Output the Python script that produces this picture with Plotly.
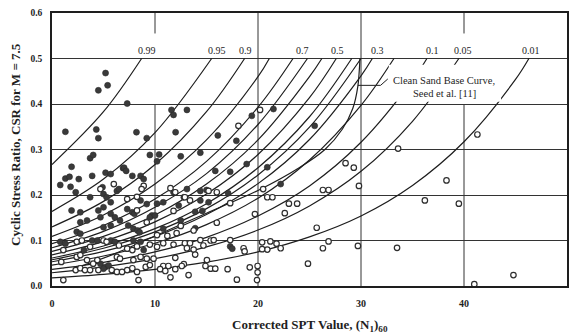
import plotly.graph_objects as go

# ---------------- data ----------------
# probability curves: CSR read at N = 0, 5, 10, ... and where each reaches 0.5
curve_levels = ["0.99", "0.95", "0.9", "0.85", "0.8", "0.7", "0.6", "0.5",
                "0.4", "0.35", "0.3", "0.2", "0.1", "0.05", "0.01"]
curve_N = [
    [0, 5, 8.7],
    [0, 5, 10, 15.5],
    [0, 5, 10, 15, 18.7],
    [0, 5, 10, 15, 20, 21.1],
    [0, 5, 10, 15, 20, 23.4],
    [0, 5, 10, 15, 20, 24.8],
    [0, 5, 10, 15, 20, 25, 26.2],
    [0, 5, 10, 15, 20, 25, 27.6],
    [0, 5, 10, 15, 20, 25, 29.1],
    [0, 5, 10, 15, 20, 25, 30.0],
    [0, 5, 10, 15, 20, 25, 30, 31.1],
    [0, 5, 10, 15, 20, 25, 30, 33.2],
    [0, 5, 10, 15, 20, 25, 30, 35, 36.4],
    [0, 5, 10, 15, 20, 25, 30, 35, 39.5],
    [0, 5, 10, 15, 20, 25, 30, 35, 40, 45, 46.3],
]
curve_CSR = [
    [0.267, 0.383, 0.5],
    [0.164, 0.235, 0.337, 0.5],
    [0.130, 0.186, 0.267, 0.383, 0.5],
    [0.109, 0.156, 0.224, 0.321, 0.460, 0.5],
    [0.093, 0.133, 0.191, 0.274, 0.393, 0.5],
    [0.084, 0.120, 0.173, 0.247, 0.355, 0.5],
    [0.076, 0.109, 0.156, 0.224, 0.321, 0.460, 0.5],
    [0.0685, 0.098, 0.141, 0.202, 0.289, 0.414, 0.5],
    [0.0615, 0.088, 0.126, 0.181, 0.260, 0.372, 0.5],
    [0.0577, 0.083, 0.119, 0.170, 0.244, 0.349, 0.5],
    [0.0533, 0.076, 0.109, 0.157, 0.225, 0.322, 0.462, 0.5],
    [0.0458, 0.066, 0.094, 0.135, 0.193, 0.277, 0.397, 0.5],
    [0.0364, 0.052, 0.075, 0.107, 0.154, 0.220, 0.316, 0.452, 0.5],
    [0.0291, 0.042, 0.060, 0.086, 0.123, 0.176, 0.252, 0.362, 0.5],
    [0.0178, 0.0255, 0.0366, 0.0524, 0.0751, 0.108, 0.154, 0.221, 0.317, 0.454, 0.5],
]

# curve labels along the top
label_text = ["0.99", "0.95", "0.9", "0.7", "0.5", "0.3", "0.1", "0.05", "0.01"]
label_N = [9.2, 16.0, 18.8, 24.3, 27.7, 31.6, 36.9, 39.9, 46.5]
label_CSR = 0.518

# clean sand base curve (Seed et al.)
seed_N = [3, 6, 10, 15, 20, 24, 26.5, 28.2, 29.2, 29.7, 29.9]
seed_CSR = [0.045, 0.07, 0.11, 0.16, 0.21, 0.26, 0.30, 0.345, 0.39, 0.44, 0.5]
leader_N = [32.6, 31.9, 29.7]
leader_CSR = [0.455, 0.441, 0.441]

# liquefied sites (filled)
liq_N = [1.3, 5.2, 5.4, 4.5, 7.3, 4.3, 4.5, 8.2, 9.2, 3.7, 4.0, 9.5, 10.4, 6.9, 1.9,
         11.6, 11.8, 13.1, 12.0, 12.5, 14.4, 16.1, 17.9, 19.4, 21.5, 18.9, 20.9,
         25.5, 10.2, 17.3, 15.85, 22.2, 13.1, 14.4, 15.0, 17.1, 10.8, 10.2, 14.4,
         15.2, 14.6, 13.9, 12.3, 13.9, 9.7, 17.3, 17.5, 12.5, 10.8,
         0.8, 1.3, 1.7, 1.8, 2.3, 2.6, 3.9, 5.2, 5.7, 7.0, 7.2, 7.8, 8.6, 8.9,
         6.3, 6.5, 4.9, 5.0, 1.9, 2.75, 3.7, 4.5, 5.0, 5.3, 5.7, 5.7, 6.1, 6.6,
         7.3, 7.8, 7.4, 7.9, 8.3, 8.5, 4.7, 2.75, 3.4, 2.4, 2.75, 5.0, 5.7, 8.6,
         9.2, 9.5, 10.0, 8.0, 3.9, 4.4, 5.7, 6.1, 7.9, 8.6, 0.8, 1.3, 4.7, 5.2,
         5.0, 5.5, 8.9, 3.1, 11.8, 12.8]
liq_CSR = [0.339, 0.468, 0.441, 0.430, 0.401, 0.344, 0.325, 0.338, 0.325, 0.281, 0.288,
           0.288, 0.289, 0.259, 0.262, 0.387, 0.376, 0.387, 0.338, 0.285, 0.293, 0.331,
           0.319, 0.374, 0.389, 0.268, 0.261, 0.352, 0.274, 0.251, 0.253, 0.224, 0.213,
           0.209, 0.211, 0.204, 0.184, 0.181, 0.188, 0.184, 0.165, 0.163, 0.177, 0.127,
           0.155, 0.087, 0.082, 0.144, 0.126,
           0.222, 0.236, 0.240, 0.218, 0.206, 0.235, 0.242, 0.249, 0.246, 0.260, 0.253,
           0.242, 0.242, 0.235, 0.209, 0.213, 0.217, 0.202, 0.166, 0.162, 0.195, 0.166,
           0.173, 0.195, 0.184, 0.159, 0.151, 0.144, 0.169, 0.162, 0.133, 0.126, 0.122,
           0.118, 0.151, 0.140, 0.144, 0.119, 0.115, 0.129, 0.133, 0.188, 0.180, 0.151,
           0.155, 0.159, 0.100, 0.100, 0.100, 0.097, 0.100, 0.097, 0.097, 0.093, 0.049,
           0.042, 0.038, 0.045, 0.079, 0.079, 0.206, 0.195]

# non-liquefied sites (open)
non_N = [18.1, 20.2, 6.0, 4.7, 8.9, 8.7, 8.25, 7.3, 8.25, 9.2, 1.1, 2.4, 2.9, 3.7, 5.0,
         5.3, 6.5, 7.3, 7.8, 8.25, 0.9, 2.4, 2.75, 3.4, 4.0, 4.4, 6.3, 6.6, 7.9, 8.6,
         9.2, 2.3, 2.75, 3.2, 3.7, 4.5, 5.8, 6.3, 6.8, 7.3, 7.8, 8.25, 9.1, 9.5, 1.1,
         8.4, 12.9, 13.4, 14.7, 13.75,
         11.5, 11.97, 16.0, 15.2, 20.5, 20.9, 21.4, 23.0, 23.8, 26.3, 26.85, 28.5,
         29.3, 29.8, 17.3, 11.8, 19.7, 22.6, 16.0, 25.7, 12.5, 12.1, 11.2, 10.2, 14.4,
         15.4, 15.7, 17.3, 12.9, 13.4, 10.8, 11.8, 10.2, 9.5, 20.4, 21.2, 21.8, 20.9,
         20.4, 22.2, 18.6, 18.7, 26.85, 26.3, 29.7, 13.75, 13.9, 13.1, 11.97, 9.86,
         15.04, 12.8, 12.6, 10.8, 11.3, 10.5, 11.0, 11.97, 14.9, 15.4, 15.85, 17.05,
         19.2, 19.96, 19.96, 17.95, 19.9, 13.26, 11.5, 24.85,
         33.5, 36.2, 38.3, 39.5, 41.0, 44.8, 33.6, 41.3]
non_CSR = [0.352, 0.387, 0.224, 0.213, 0.220, 0.213, 0.196, 0.191, 0.166, 0.140, 0.079,
           0.097, 0.100, 0.086, 0.100, 0.097, 0.089, 0.082, 0.079, 0.087, 0.053, 0.064,
           0.068, 0.057, 0.049, 0.057, 0.064, 0.060, 0.057, 0.064, 0.060, 0.035, 0.039,
           0.035, 0.035, 0.035, 0.035, 0.031, 0.031, 0.035, 0.039, 0.031, 0.042, 0.046,
           0.013, 0.013, 0.195, 0.188, 0.089, 0.122,
           0.215, 0.206, 0.206, 0.209, 0.213, 0.195, 0.195, 0.181, 0.181, 0.211, 0.211,
           0.270, 0.260, 0.220, 0.182, 0.165, 0.158, 0.160, 0.139, 0.128, 0.132, 0.116,
           0.110, 0.112, 0.101, 0.100, 0.101, 0.101, 0.094, 0.094, 0.094, 0.091, 0.086,
           0.091, 0.096, 0.098, 0.093, 0.080, 0.081, 0.083, 0.083, 0.076, 0.098, 0.083,
           0.088, 0.080, 0.069, 0.083, 0.062, 0.060, 0.057, 0.048, 0.044, 0.044, 0.044,
           0.037, 0.033, 0.037, 0.044, 0.038, 0.038, 0.037, 0.041, 0.044, 0.030, 0.014,
           0.013, 0.024, 0.019, 0.049,
           0.084, 0.188, 0.232, 0.181, 0.004, 0.024, 0.302, 0.333]

x_ticks = [0, 10, 20, 30, 40, 50]
y_ticks = [0.0, 0.1, 0.2, 0.3, 0.4, 0.5, 0.6]

# ---------------- figure ----------------
SERIF = "Liberation Serif"
INK = "#1e1e1e"
fig = go.Figure()

for lev, xs, ys in zip(curve_levels, curve_N, curve_CSR):
    fig.add_trace(go.Scatter(x=xs, y=ys, mode="lines", name=lev,
                             line=dict(color=INK, width=1.2, shape="spline", smoothing=1.0),
                             hoverinfo="skip", showlegend=False))

fig.add_trace(go.Scatter(x=seed_N, y=seed_CSR, mode="lines",
                         line=dict(color=INK, width=1.2, shape="spline", smoothing=0.8),
                         showlegend=False, hoverinfo="skip"))

fig.add_trace(go.Scatter(x=liq_N, y=liq_CSR, mode="markers", showlegend=False,
                         marker=dict(size=6, color="#3a3a3a",
                                     line=dict(color="#2a2a2a", width=0.6))))
fig.add_trace(go.Scatter(x=non_N, y=non_CSR, mode="markers", showlegend=False,
                         marker=dict(size=5.5, color="white", symbol="circle",
                                     line=dict(color="#2e2e2e", width=1.2))))

# gridlines (vertical lines at 10 and 40 are interrupted in the label band)
shapes = []
for xv in [20, 30]:
    shapes.append(dict(type="line", xref="x", yref="y", x0=xv, x1=xv, y0=0, y1=0.6,
                       line=dict(color="#333", width=1), layer="below"))
for xv in [10, 40]:
    for (a, b) in [(0, 0.4), (0.555, 0.6)]:
        shapes.append(dict(type="line", xref="x", yref="y", x0=xv, x1=xv, y0=a, y1=b,
                           line=dict(color="#333", width=1), layer="below"))
# white box behind the clean sand text
shapes.append(dict(type="rect", xref="x", yref="y", x0=32.7, x1=43.6, y0=0.405, y1=0.486,
                   fillcolor="white", line=dict(width=0), layer="above"))
fig.update_layout(shapes=shapes)

fig.add_trace(go.Scatter(x=leader_N, y=leader_CSR, mode="lines", showlegend=False,
                         line=dict(color=INK, width=1), hoverinfo="skip"))

for t, xv in zip(label_text, label_N):
    fig.add_annotation(x=xv, y=label_CSR, text=t, showarrow=False,
                       font=dict(family=SERIF, size=10, color=INK))

fig.add_annotation(x=38.1, y=0.452, text="Clean Sand Base Curve,", showarrow=False,
                   font=dict(family=SERIF, size=10.5, color=INK))
fig.add_annotation(x=38.1, y=0.424, text="Seed et al. [11]", showarrow=False,
                   font=dict(family=SERIF, size=10.5, color=INK))

fig.add_annotation(xref="paper", yref="paper", x=0.501, y=-0.143,
                   text="Corrected SPT Value, (N<sub>1</sub>)<sub>60</sub>", showarrow=False,
                   font=dict(family=SERIF, size=13, color=INK, weight="bold"),
                   yanchor="middle")
fig.add_annotation(xref="paper", yref="paper", x=-0.072, y=0.52, textangle=-90,
                   text="Cyclic Stress Ratio, CSR for M = 7.5", showarrow=False,
                   font=dict(family=SERIF, size=13, color=INK, weight="bold"),
                   xanchor="center", yanchor="middle")

fig.update_xaxes(range=[0, 50], tickvals=x_ticks, showgrid=False, zeroline=False,
                 showline=True, linecolor=INK, linewidth=1.5, mirror=True,
                 ticks="", ticklabelstandoff=7, automargin=False,
                 tickfont=dict(family=SERIF, size=10, color=INK, weight="bold"))
fig.update_yaxes(range=[0, 0.6], tickvals=y_ticks, tickformat=".1f",
                 showgrid=True, gridcolor="#333", gridwidth=1, zeroline=False,
                 showline=True, linecolor=INK, linewidth=1.5, mirror=True,
                 ticks="", ticklabelstandoff=6, automargin=False,
                 tickfont=dict(family=SERIF, size=9.5, color=INK, weight="bold"))

fig.update_layout(width=570, height=336, margin=dict(l=52, r=3, t=13, b=50, autoexpand=False),
                  paper_bgcolor="white", plot_bgcolor="white", showlegend=False)

fig.write_html("out.html", config={"displayModeBar": False},
               post_script="document.body.style.margin='0px';document.body.style.overflow='hidden';")
